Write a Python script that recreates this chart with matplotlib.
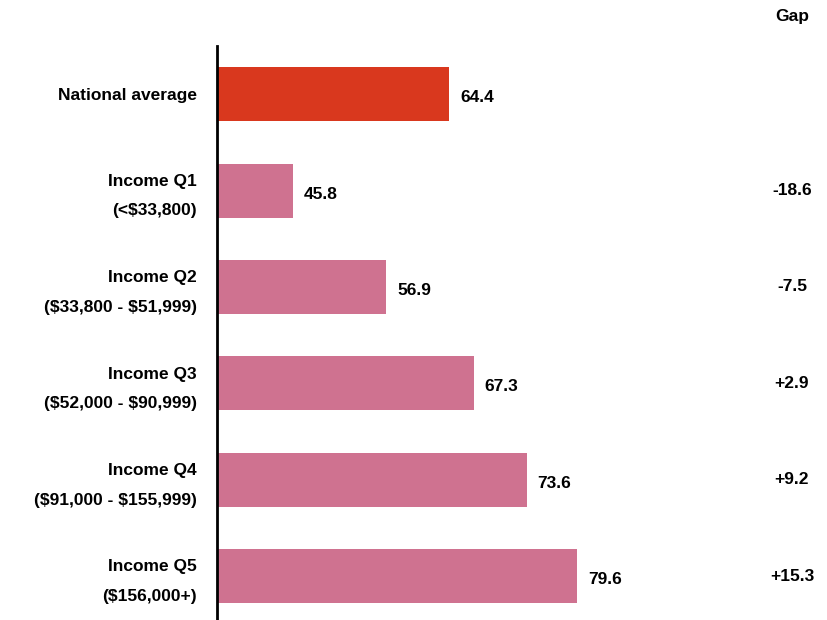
import matplotlib
matplotlib.use("Agg")
import matplotlib.pyplot as plt
import matplotlib.transforms as mtrans

plt.rcParams['font.family'] = ['Liberation Sans', 'DejaVu Sans']
plt.rcParams['font.weight'] = 'bold'

categories = ["National average", "Income Q1\n(<$33,800)", "Income Q2\n($33,800 - $51,999)",
              "Income Q3\n($52,000 - $90,999)", "Income Q4\n($91,000 - $155,999)",
              "Income Q5\n($156,000+)"]
values = [64.4, 45.8, 56.9, 67.3, 73.6, 79.6]
value_labels = ["64.4", "45.8", "56.9", "67.3", "73.6", "79.6"]
gaps = ["", "-18.6", "-7.5", "+2.9", "+9.2", "+15.3"]
colors = ["#D9381E"] + ["#CF7290"] * 5

W, H = 828, 620
fig = plt.figure(figsize=(W / 100, H / 100), dpi=100)
ax_left = 217 / W
ax = fig.add_axes([ax_left, 0, 1 - ax_left, 1 - 46 / H])

x0 = 36.75
scale = 8.4
ax.set_xlim(x0, x0 + (W - 217) / scale)
pos = list(range(len(categories)))
ax.barh(pos, [v - x0 for v in values], left=x0, height=0.56, color=colors)
ax.set_ylim(5.455, -0.5)

for p, v, lab in zip(pos, values, value_labels):
    ax.annotate(lab, (v, p), xytext=(8, -2.5), textcoords="offset points",
                ha="left", va="center", fontsize=12.5, fontweight="bold")

# category labels (drawn as text so line spacing can be controlled)
ax.set_yticks(pos)
ax.tick_params(axis="y", length=0, labelleft=False)
ax.tick_params(axis="x", bottom=False, labelbottom=False)
ylab = mtrans.blended_transform_factory(ax.transAxes, ax.transData)
for p, c in zip(pos, categories):
    dy = -4 if "\n" in c else -1
    ax.annotate(c, xy=(0, p), xycoords=ylab, xytext=(-14.4, dy), textcoords="offset points",
                ha="right", va="center", multialignment="right", fontsize=12.5,
                fontweight="bold", linespacing=2.2,
                parse_math=False, annotation_clip=False)

for s in ["top", "right", "bottom"]:
    ax.spines[s].set_visible(False)
ax.spines["left"].set_linewidth(2)
ax.spines["left"].set_color("black")

# gap column
gx = 792 / W
fig.text(gx, 1 - 17 / H, "Gap", ha="center", va="center", fontsize=12.5, fontweight="bold")
blend = mtrans.blended_transform_factory(fig.transFigure, ax.transData)
for p, g in zip(pos, gaps):
    if g:
        fig.text(gx, p, g, transform=blend, ha="center", va="center",
                 fontsize=12.5, fontweight="bold")

fig.savefig("out.png", dpi=100)
